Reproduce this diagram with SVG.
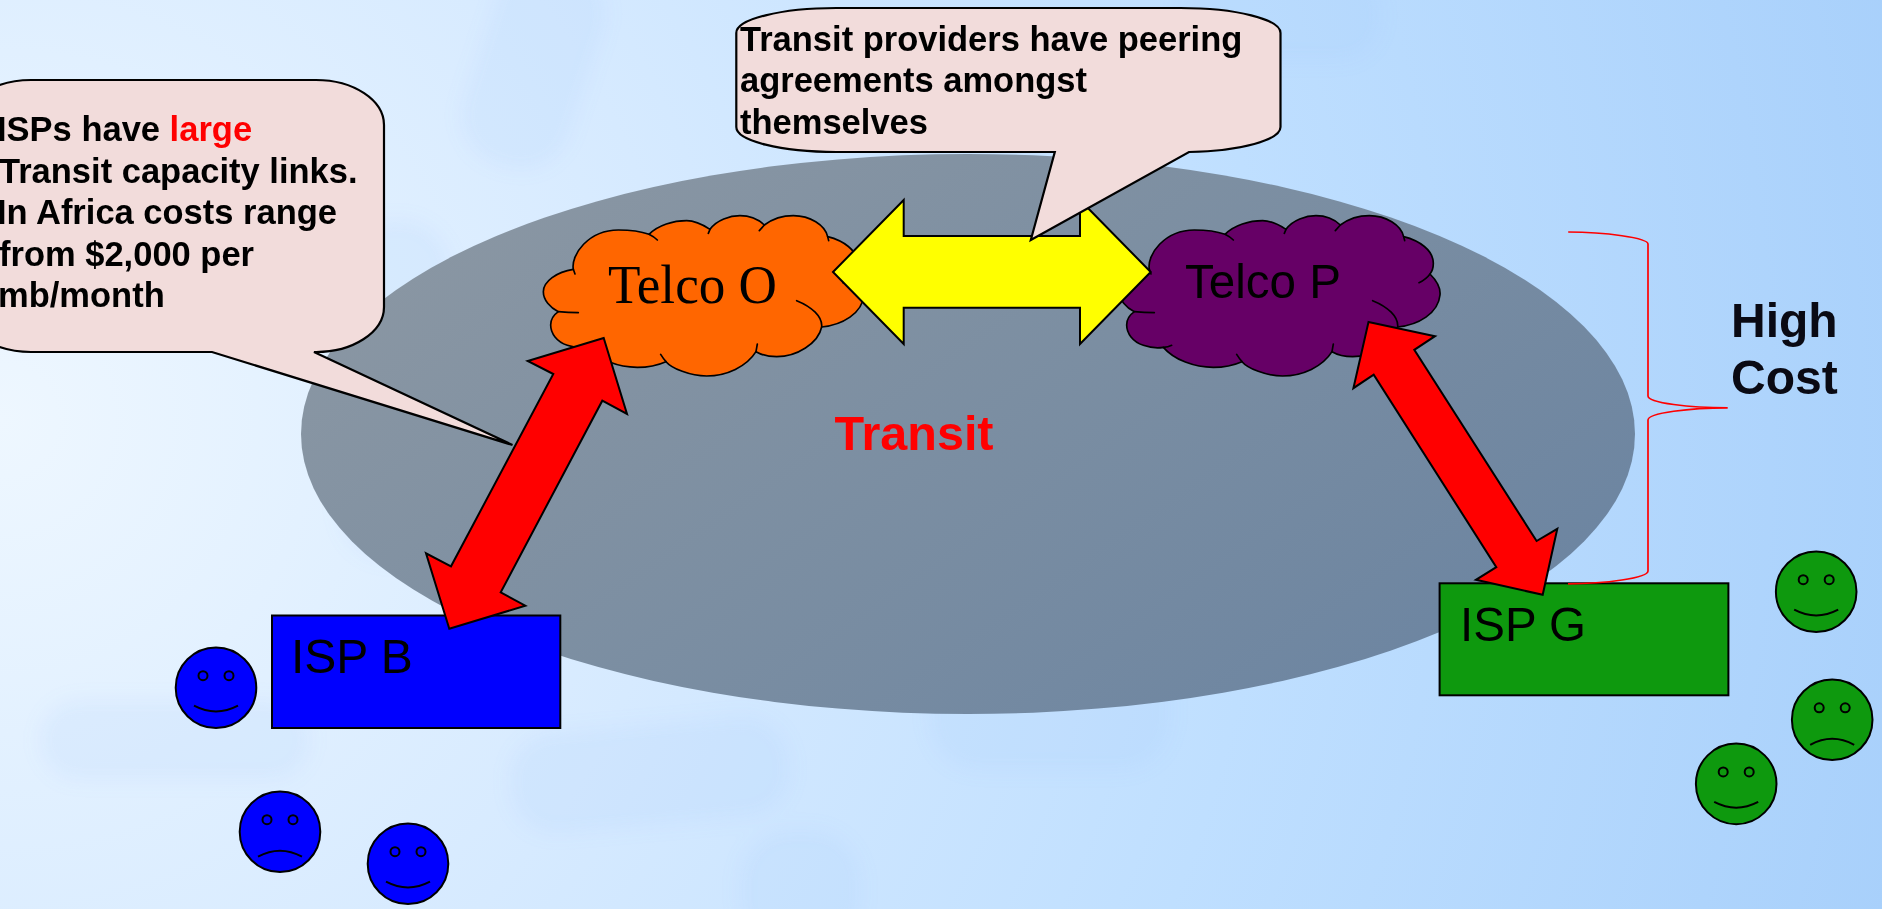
<svg xmlns="http://www.w3.org/2000/svg" width="1882" height="909" viewBox="0 0 1882 909">
<style>
.ol{stroke:#000;stroke-width:2;stroke-linejoin:miter}
.call{fill:#f2dcdb;stroke:#000;stroke-width:2.2;stroke-linejoin:miter}
.red{fill:#f00;stroke:#000;stroke-width:2;stroke-linejoin:miter}
.cl{stroke:#000;stroke-width:5;stroke-linejoin:round}
.inner{fill:none;stroke:#000;stroke-width:5;stroke-linecap:round}
.b{font-family:"Liberation Sans",Arial,sans-serif;font-weight:700;font-size:34.5px;fill:#000}
.s{font-family:"Liberation Sans",Arial,sans-serif;fill:#000}
.face{stroke:#000;stroke-width:2}
.fe{fill:none;stroke:#000;stroke-width:2}
.blob{fill:#9cc8f5;opacity:.12}
</style>
<defs>
<radialGradient id="bg" gradientUnits="userSpaceOnUse" cx="0" cy="420" r="1950">
<stop offset="0" stop-color="#eef7ff"/>
<stop offset=".35" stop-color="#d6eaff"/>
<stop offset=".65" stop-color="#bfdfff"/>
<stop offset="1" stop-color="#a8d0fb"/>
</radialGradient>
<linearGradient id="el" x1="0" y1=".2" x2="1" y2=".8">
<stop offset="0" stop-color="#8b97a3"/>
<stop offset=".5" stop-color="#7b8ea2"/>
<stop offset="1" stop-color="#6b84a1"/>
</linearGradient>
<filter id="blur" x="-30%" y="-30%" width="160%" height="160%"><feGaussianBlur stdDeviation="9"/></filter>
<path id="cloud-outer" d="M130 208C122 165 175 90 265 90C300 90 335 95 357 103C385 75 430 62 470 62C495 62 520 75 540 88C560 60 600 47 630 47C660 47 685 58 703 75C730 55 765 47 790 47C840 47 885 75 893 110C940 122 982 150 982 190C982 205 978 215 972 222C995 245 1004 265 1002 285C997 340 937 375 875 381C865 430 800 470 740 470C715 470 695 465 678 455C650 500 590 528 530 528C480 528 425 505 408 485C385 495 350 502 322 502C265 502 205 480 172 442C150 446 130 442 112 436C80 425 62 400 62 375C62 358 72 344 85 335C60 322 40 300 40 275C40 245 80 215 130 208Z"/>
<path id="cloud-inner" d="M130 208L135 222M357 103C365 107 375 113 382 120M540 88L535 100M703 75L688 92M893 110L896 122M972 222C965 232 952 242 939 248M875 381C878 350 845 320 800 302M678 455L682 432M408 485C402 478 397 471 392 463M172 442C182 442 190 440 197 436M85 335C105 337 125 338 145 338"/>
<path id="smile" d="M-22 18Q0 29.5 22 18"/>
<path id="frown" d="M-22 25Q0 13 22 25"/>
</defs>
<g id="background">
<rect width="1882" height="909" fill="url(#bg)"/>
<g filter="url(#blur)">
<rect class="blob" x="480" y="-40" width="110" height="210" rx="50" transform="rotate(18 535 60)"/>
<rect class="blob" x="40" y="700" width="270" height="80" rx="40"/>
<rect class="blob" x="510" y="725" width="280" height="100" rx="45" transform="rotate(-5 650 775)"/>
<rect class="blob" x="740" y="830" width="120" height="120" rx="50"/>
<rect class="blob" x="930" y="640" width="240" height="130" rx="50"/>
<rect class="blob" x="1180" y="-30" width="200" height="90" rx="40"/>
<rect class="blob" x="340" y="220" width="110" height="340" rx="50"/>
<rect class="blob" x="830" y="390" width="200" height="280" rx="60"/>
</g>
</g>
<g id="transit-cloud">
<ellipse cx="968" cy="434" rx="667" ry="280" fill="url(#el)"/>
<text class="b" x="834.5" y="450" style="font-size:48.5px;fill:#f00">Transit</text>
</g>
<g id="telco-o" fill="#f60">
<g transform="translate(530 200) scale(.33333)"><use href="#cloud-outer" class="cl"/><use href="#cloud-inner" class="inner"/></g>
<text x="608" y="303" font-family="'Liberation Serif','Times New Roman',serif" font-size="54" fill="#000" textLength="169" lengthAdjust="spacingAndGlyphs">Telco O</text>
</g>
<g id="telco-p" fill="#606">
<g transform="translate(1106 200) scale(.33333)"><use href="#cloud-outer" class="cl"/><use href="#cloud-inner" class="inner"/></g>
<text class="s" x="1185" y="298" font-size="48" textLength="156" lengthAdjust="spacingAndGlyphs">Telco P</text>
</g>
<g id="connectors">
<path id="peering" class="ol" fill="#ff0" d="M833 272L903.7 200V236H1080V200L1150.7 272L1080 344V307.7H903.7V344Z"/>
</g>
<g id="callout-peering">
<path class="call" d="M836.3 8H1180.5A100 25 0 0 1 1280.5 33V127A100 25 0 0 1 1189 152L1030.8 240L1054.8 152H836.3A100 25 0 0 1 736.3 127V33A100 25 0 0 1 836.3 8Z"/>
<text class="b" x="740" y="51">Transit providers have peering</text>
<text class="b" x="740" y="92">agreements amongst</text>
<text class="b" x="740" y="134">themselves</text>
</g>
<g id="callout-isp">
<path class="call" d="M31 80H316A68 45 0 0 1 384 125V307A68 45 0 0 1 314 352L512.5 445L212 352H31A68 45 0 0 1 -37 307V125A68 45 0 0 1 31 80Z"/>
<text class="b" x="-3" y="141">ISPs have <tspan fill="#f00">large</tspan></text>
<text class="b" x="-1" y="183">Transit capacity links.</text>
<text class="b" x="-3" y="224">In Africa costs range</text>
<text class="b" x="-1" y="266">from $2,000 per</text>
<text class="b" x="-2" y="307">mb/month</text>
</g>
<g id="isp-b">
<rect class="ol" x="272" y="615.5" width="288.3" height="112.5" fill="#00f"/>
<text class="s" x="291" y="673" font-size="48">ISP B</text>
</g>
<g id="isp-g">
<rect class="ol" x="1439.6" y="583.3" width="288.8" height="112" fill="#0e990e"/>
<text class="s" x="1460" y="641" font-size="47.5">ISP G</text>
</g>
<g id="links">
<path id="link-b" class="red" d="M603.7 338L527.7 361L553.3 374L451 566.3L426 553.3L449.3 628.7L525.3 605.7L500.7 592.3L602.3 400.7L627 414Z"/>
<path id="link-g" class="red" d="M1368.5 322L1435 336.2L1414.3 349.8L1536.6 541L1557.3 528.8L1542.7 594.8L1475.9 579.8L1496.3 567.2L1373.7 374.6L1353.4 388.2Z"/>
<path id="brace" fill="none" stroke="#f00" stroke-width="1.7" d="M1568.2 232C1605 232 1648 238 1648 244V396C1648 403 1690 407.8 1727.7 407.8C1690 407.8 1648 413 1648 420V571C1648 578 1605 583.8 1568 583.8"/>
</g>
<g id="high-cost">
<text class="b" x="1731" y="336.5" style="font-size:48px;fill:#0a0a14">High</text>
<text class="b" x="1731" y="394" style="font-size:48px;fill:#0a0a14">Cost</text>
</g>
<g id="user-b1" fill="#00f" transform="translate(216 687.7)"><circle class="face" r="40.3"/><circle class="fe" cx="-13" cy="-12" r="4.5"/><circle class="fe" cx="13" cy="-12" r="4.5"/><use href="#smile" class="fe"/></g>
<g id="user-b2" fill="#00f" transform="translate(280 831.7)"><circle class="face" r="40.3"/><circle class="fe" cx="-13" cy="-12" r="4.5"/><circle class="fe" cx="13" cy="-12" r="4.5"/><use href="#frown" class="fe"/></g>
<g id="user-b3" fill="#00f" transform="translate(408 863.7)"><circle class="face" r="40.3"/><circle class="fe" cx="-13" cy="-12" r="4.5"/><circle class="fe" cx="13" cy="-12" r="4.5"/><use href="#smile" class="fe"/></g>
<g id="user-g1" fill="#0e990e" transform="translate(1816.2 591.7)"><circle class="face" r="40.3"/><circle class="fe" cx="-13" cy="-12" r="4.5"/><circle class="fe" cx="13" cy="-12" r="4.5"/><use href="#smile" class="fe"/></g>
<g id="user-g2" fill="#0e990e" transform="translate(1832.2 719.8)"><circle class="face" r="40.3"/><circle class="fe" cx="-13" cy="-12" r="4.5"/><circle class="fe" cx="13" cy="-12" r="4.5"/><use href="#frown" class="fe"/></g>
<g id="user-g3" fill="#0e990e" transform="translate(1736.2 783.9)"><circle class="face" r="40.3"/><circle class="fe" cx="-13" cy="-12" r="4.5"/><circle class="fe" cx="13" cy="-12" r="4.5"/><use href="#smile" class="fe"/></g>
</svg>
